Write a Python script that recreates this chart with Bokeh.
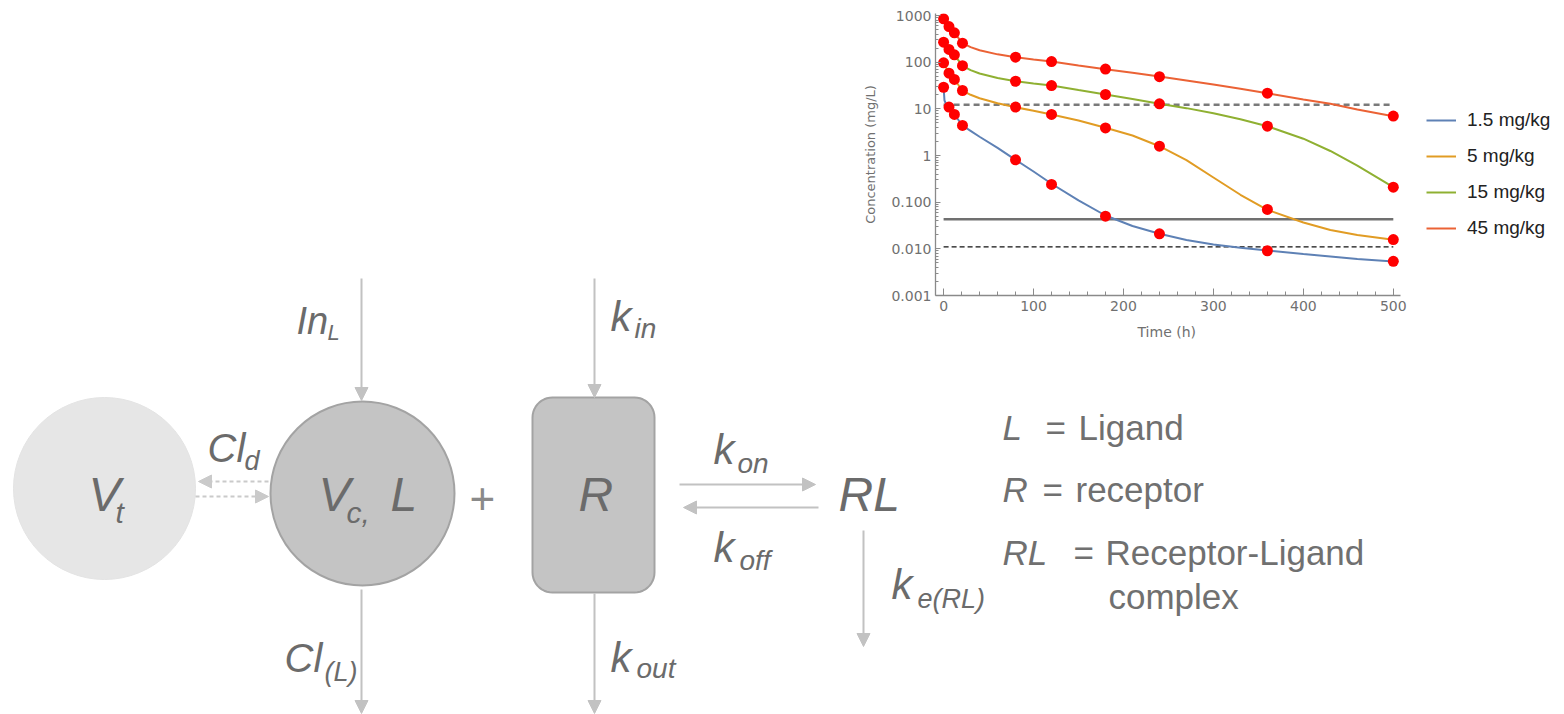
import numpy as np
from bokeh.plotting import figure
from bokeh.layouts import row, column
from bokeh.models import Range1d, FixedTicker, Legend, LegendItem, Arrow, NormalHead, Title
from bokeh.core.properties import value
from bokeh.embed import file_html
from bokeh.resources import INLINE

# ---------------- data ----------------
DOSES = ["1.5 mg/kg", "5 mg/kg", "15 mg/kg", "45 mg/kg"]
T_CURVE = [0, 1, 3, 6, 12, 21, 30, 40, 60, 80, 100, 120, 150, 180, 210, 240,
           270, 300, 330, 360, 400, 430, 460, 500]
C_1_5 = [29.1, 15.1, 12.4, 10.8, 7.56, 4.4, 3.38, 2.52, 1.46, 0.809, 0.454, 0.248,
         0.109, 0.0518, 0.0309, 0.021, 0.0155, 0.0124, 0.0105, 0.00922, 0.00776,
         0.00686, 0.00606, 0.00536]
C_5 = [97, 89, 75, 58, 42.5, 24.7, 20.0, 16.9, 13.2, 10.8, 9.08, 7.56, 5.62, 3.93,
       2.68, 1.58, 0.793, 0.338, 0.144, 0.0687, 0.0367, 0.0253, 0.0198, 0.0156]
C_15 = [268, 251, 222, 187, 144, 83.6, 67.5, 57.1, 45.7, 39.1, 34.9, 31.6, 25.3, 20.3,
        16.3, 12.8, 10.35, 8.02, 6.0, 4.25, 2.29, 1.25, 0.608, 0.209]
C_45 = [850, 781, 708, 581, 426, 255, 210, 180, 147, 128, 114, 103, 84.8, 70.7, 59.2,
        49.3, 40.5, 33.2, 26.9, 21.6, 15.8, 12.9, 9.68, 6.95]

T_OBS = [0, 6, 12, 21, 80, 120, 180, 240, 360, 500]
O_1_5 = [29, 10.9, 7.6, 4.4, 0.81, 0.24, 0.050, 0.021, 0.0091, 0.0054]
O_5 = [97, 58, 42.6, 24.7, 10.9, 7.6, 3.9, 1.58, 0.070, 0.0158]
O_15 = [268, 187, 144, 84, 39, 31.6, 20.3, 12.8, 4.25, 0.21]
O_45 = [850, 580, 425, 255, 128, 103, 71, 49, 21.6, 7.0]

REF_T = [0, 500]
REF_HIGH = 12.2
REF_MID = 0.043
REF_LOW = 0.011

X_TICKS = [0, 100, 200, 300, 400, 500]
Y_TICKS = [0.001, 0.01, 0.1, 1, 10, 100, 1000]
Y_LABELS = ["0.001", "0.010", "0.100", "1", "10", "100", "1000"]

# ---------------- styles ----------------
COLORS = ["#5E81B5", "#E19C24", "#8FB032", "#EB6235"]
AX = "#8a8a8a"
TICKLAB = "#707070"
SYM = "#6b6b6b"
ARC = "#c2c2c2"
FONT = "Liberation Sans"

# ---------------- chart ----------------
# frame runs to the right edge so the legend (inside the frame) is not clipped;
# the x axis line itself is bounded to the data extent.
X_LO, X_HI_AXIS = -9, 508
PX_PER_UNIT = 465 / (X_HI_AXIS - X_LO)
X_HI_FRAME = X_LO + 629 / PX_PER_UNIT

chart = figure(width=736, height=360, y_axis_type="log",
               x_range=Range1d(X_LO, X_HI_FRAME), y_range=Range1d(0.001, 1104),
               output_backend="svg", toolbar_location=None,
               min_border_left=107, min_border_right=0,
               min_border_top=13, min_border_bottom=65)
chart.outline_line_color = None
chart.grid.visible = False
chart.background_fill_color = "white"

chart.line(REF_T, [REF_HIGH, REF_HIGH], line_color="#7a7a7a", line_width=2.5, line_dash="6 4")
chart.line(REF_T, [REF_MID, REF_MID], line_color="#707070", line_width=2.5)
chart.line(REF_T, [REF_LOW, REF_LOW], line_color="#111111", line_width=1.4, line_dash="5 3")

curves = [C_1_5, C_5, C_15, C_45]
obs = [O_1_5, O_5, O_15, O_45]
renderers = []
for c, col in zip(curves, COLORS):
    renderers.append(chart.line(T_CURVE, c, line_color=col, line_width=2))
for o in obs:
    chart.scatter(T_OBS, o, size=11, fill_color="#FF0000", line_color=None)

x_minor = [v for v in range(0, 501, 20) if v not in X_TICKS]
y_minor = [k * 10.0 ** e for e in range(-3, 3) for k in range(2, 10)]
chart.xaxis.ticker = FixedTicker(ticks=X_TICKS, minor_ticks=x_minor)
chart.yaxis.ticker = FixedTicker(ticks=Y_TICKS, minor_ticks=y_minor)
chart.yaxis.major_label_overrides = {t: l for t, l in zip(Y_TICKS, Y_LABELS)}
chart.xaxis.bounds = (X_LO, X_HI_AXIS)
for ax in (chart.xaxis, chart.yaxis):
    ax.axis_line_color = AX
    ax.axis_line_width = 1.3
    ax.major_tick_line_color = AX
    ax.minor_tick_line_color = AX
    ax.major_tick_out = 0
    ax.minor_tick_out = 0
    ax.major_label_text_color = TICKLAB
    ax.major_label_text_font = "DejaVu Sans"
    ax.major_label_text_font_size = "14px"
    ax.axis_label_text_color = TICKLAB
    ax.axis_label_text_font = "DejaVu Sans"
    ax.axis_label_text_font_style = "normal"
chart.xaxis.major_tick_in = 7
chart.xaxis.minor_tick_in = 4
chart.yaxis.major_tick_in = 5
chart.yaxis.minor_tick_in = 3
chart.xaxis.major_label_standoff = 5
chart.yaxis.major_label_standoff = 4
chart.yaxis.axis_label = "Concentration (mg/L)"
chart.yaxis.axis_label_text_font_size = "13px"
chart.yaxis.axis_label_standoff = 10

# x axis title, centred under the data extent of the axis (not the widened frame)
chart.add_layout(Title(text="Time (h)", align="left", offset=202, standoff=16,
                       text_font="DejaVu Sans", text_font_size="14px",
                       text_font_style="normal", text_color=TICKLAB), "below")

legend = Legend(items=[LegendItem(label=d, renderers=[r]) for d, r in zip(DOSES, renderers)],
                location=(491, 56), glyph_width=30, glyph_height=20, label_height=20,
                label_standoff=11, spacing=14, padding=10, margin=0,
                label_text_font=FONT, label_text_font_size="19px",
                label_text_color="#222222", border_line_color=None,
                background_fill_alpha=0)
chart.add_layout(legend, "center")


# ---------------- diagram canvases ----------------
def canvas(w, h, x0, y0):
    p = figure(width=w, height=h, x_range=Range1d(x0, x0 + w), y_range=Range1d(y0 + h, y0),
               output_backend="svg", toolbar_location=None,
               x_axis_type=None, y_axis_type=None, min_border=0)
    p.outline_line_color = None
    p.background_fill_color = "white"
    return p


def txt(p, x, base, s, size, italic=True, color=SYM):
    # base = desired alphabetic baseline (screen px); drawn with a middle anchor
    p.text(x=[x], y=[base - 0.37 * size], text=[s], text_font=value(FONT),
           text_font_size=f"{size}px",
           text_font_style="italic" if italic else "normal", text_color=color,
           text_baseline="middle", text_align="left")


def arrow(p, x0, y0, x1, y1, dash="solid", color=ARC):
    p.add_layout(Arrow(end=NormalHead(size=13, fill_color=color, line_color=color, line_width=1),
                       x_start=x0, y_start=y0, x_end=x1, y_end=y1,
                       line_color=color, line_width=2, line_dash=dash))


left = canvas(828, 714, 0, 0)
# peripheral compartment
left.circle(x=[104], y=[488], radius=91, fill_color="#e6e6e6", line_color="#e3e3e3", line_width=1)
txt(left, 88, 512, "V", 48)
txt(left, 115, 523, "t", 30)
# central compartment
left.circle(x=[362], y=[493], radius=92, fill_color="#c4c4c4", line_color="#a3a3a3", line_width=2)
txt(left, 318, 512, "V", 48)
txt(left, 346, 523, "c,", 30)
txt(left, 390, 512, "L", 48)
# plus
txt(left, 469, 514, "+", 44, italic=False, color="#8a8a8a")
# receptor box (rounded rectangle)
bx0, bx1, by0, by1, rr = 532, 654, 397, 592, 20
ang = np.linspace(0, np.pi / 2, 12)
xs = np.concatenate([bx1 - rr + rr * np.cos(ang), bx0 + rr - rr * np.sin(ang),
                     bx0 + rr - rr * np.cos(ang), bx1 - rr + rr * np.sin(ang)])
ys = np.concatenate([by0 + rr - rr * np.sin(ang), by0 + rr - rr * np.cos(ang),
                     by1 - rr + rr * np.sin(ang), by1 - rr + rr * np.cos(ang)])
left.patch(xs, ys, fill_color="#c4c4c4", line_color="#a3a3a3", line_width=2)
txt(left, 578, 512, "R", 48)

# arrows
arrow(left, 361, 278, 361, 400)
arrow(left, 594, 278, 594, 397)
arrow(left, 361, 589, 361, 713)
arrow(left, 594, 593, 594, 713)
arrow(left, 679, 484, 815, 484)
arrow(left, 818, 507, 683, 507)
arrow(left, 268, 481, 198, 481, dash="4 3", color="#cacaca")
arrow(left, 195, 496, 268, 496, dash="4 3", color="#cacaca")

# labels
txt(left, 296, 335, "In", 38)
txt(left, 327, 340, "L", 22)
txt(left, 610, 332, "k", 42)
txt(left, 634, 338, "in", 28)
txt(left, 207, 462, "Cl", 40)
txt(left, 244, 470, "d", 27)
txt(left, 284, 672, "Cl", 40)
txt(left, 324, 681, "(L)", 27)
txt(left, 610, 673, "k", 42)
txt(left, 636, 678, "out", 28)
txt(left, 713, 465, "k", 42)
txt(left, 737, 473, "on", 28)
txt(left, 713, 563, "k", 42)
txt(left, 739, 570, "off", 28)

right = canvas(736, 354, 828, 360)
txt(right, 838, 512, "RL", 48)
arrow(right, 863, 530, 863, 646)
txt(right, 891, 600, "k", 42)
txt(right, 917, 608, "e(RL)", 27)

LEG = "#707070"
txt(right, 1002, 440, "L", 35, color=LEG)
txt(right, 1045, 440, "=", 35, italic=False, color=LEG)
txt(right, 1078, 440, "Ligand", 35, italic=False, color=LEG)
txt(right, 1002, 502, "R", 35, color=LEG)
txt(right, 1042, 502, "=", 35, italic=False, color=LEG)
txt(right, 1075, 502, "receptor", 35, italic=False, color=LEG)
txt(right, 1002, 565, "RL", 35, color=LEG)
txt(right, 1073, 565, "=", 35, italic=False, color=LEG)
txt(right, 1105, 565, "Receptor-Ligand", 35, italic=False, color=LEG)
txt(right, 1108, 609, "complex", 35, italic=False, color=LEG)

layout = row(column(left), column(column(chart), column(right)))
open("out.html", "w").write(file_html(layout, INLINE))
